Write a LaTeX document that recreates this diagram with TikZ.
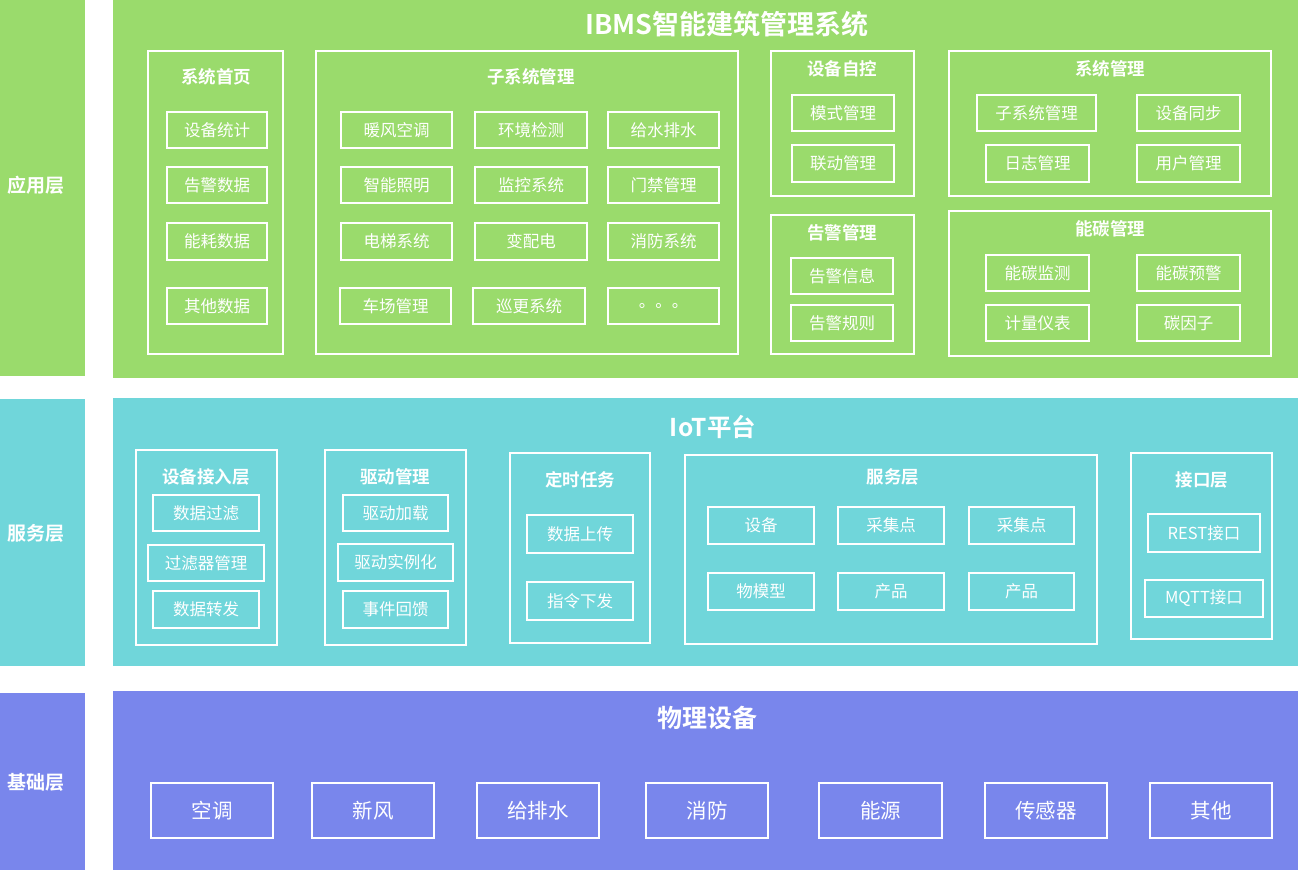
\documentclass[tikz,border=0pt]{standalone}
\usepackage{fontspec}
\setmainfont{Noto Sans CJK SC}[BoldFont={Noto Sans CJK SC Bold}]
\definecolor{appg}{RGB}{154,219,108}
\definecolor{srvc}{RGB}{112,214,218}
\definecolor{basb}{RGB}{121,134,236}
\tikzset{
  band/.style={draw=none,inner sep=0pt,outer sep=0pt,anchor=center},
  bx/.style={draw=white,line width=1.6pt,inner sep=0pt,outer sep=0pt,text=white,font=\fontsize{16.5}{19}\selectfont},
  grp/.style={draw=white,line width=1.6pt,inner sep=0pt,outer sep=0pt},
  gtitle/.style={text=white,font=\fontsize{17.5}{20}\selectfont\bfseries},
  ltitle/.style={text=white,font=\fontsize{19}{22}\selectfont\bfseries},
  btitle/.style={text=white,font=\fontsize{27}{30}\selectfont\bfseries},
  devbx/.style={bx,font=\fontsize{20.5}{24}\selectfont},
}
% #1 options, #2 name, #3 x1, #4 y1, #5 x2, #6 y2, #7 text
\newcommand\bx[7][bx]{\node[#1,minimum width={(#5-#3)*1pt},minimum height={(#6-#4)*1pt}] (#2) at ({(#3+#5)/2},{(#4+#6)/2}) {#7};}
\begin{document}
\begin{tikzpicture}[x=1pt,y=-1pt]
\useasboundingbox[fill=white] (0,0) rectangle (1298,870);
% bands
\bx[band,fill=appg]{appL}{0}{0}{85}{376}{}
\bx[band,fill=appg]{appM}{113}{0}{1298}{378}{}
\bx[band,fill=srvc]{srvL}{0}{399}{85}{666}{}
\bx[band,fill=srvc]{srvM}{113}{398}{1298}{666}{}
\bx[band,fill=basb]{basL}{0}{693}{85}{870}{}
\bx[band,fill=basb]{basM}{113}{691}{1298}{870}{}
\node[ltitle] (lapp) at (36,185) {应用层};
\node[ltitle] (lsrv) at (36,533) {服务层};
\node[ltitle] (lbas) at (36,782) {基础层};
% ---------- application layer ----------
\node[btitle] (ibms) at (727,24) {IBMS智能建筑管理系统};
\bx[grp]{g1}{148}{51}{283}{354}{}
\node[gtitle] (g1t) at (216,77) {系统首页};
\bx{a1}{167}{112}{267}{148}{设备统计}
\bx{a2}{167}{167}{267}{203}{告警数据}
\bx{a3}{167}{223}{267}{260}{能耗数据}
\bx{a4}{167}{288}{267}{324}{其他数据}
\bx[grp]{g2}{316}{51}{738}{354}{}
\node[gtitle] (g2t) at (531,77) {子系统管理};
\bx{b11}{341}{112}{452}{148}{暖风空调}
\bx{b12}{475}{112}{587}{148}{环境检测}
\bx{b13}{608}{112}{719}{148}{给水排水}
\bx{b21}{341}{167}{452}{203}{智能照明}
\bx{b22}{475}{167}{587}{203}{监控系统}
\bx{b23}{608}{167}{719}{203}{门禁管理}
\bx{b31}{341}{223}{452}{260}{电梯系统}
\bx{b32}{475}{223}{587}{260}{变配电}
\bx{b33}{608}{223}{719}{260}{消防系统}
\bx{b41}{340}{288}{451}{324}{车场管理}
\bx{b42}{473}{288}{585}{324}{巡更系统}
\bx{b43}{608}{288}{719}{324}{。。。}
\bx[grp]{g3}{771}{51}{914}{196}{}
\node[gtitle] (g3t) at (842,69) {设备自控};
\bx{c1}{792}{95}{894}{131}{模式管理}
\bx{c2}{792}{145}{894}{182}{联动管理}
\bx[grp]{g4}{771}{215}{914}{354}{}
\node[gtitle] (g4t) at (842,233) {告警管理};
\bx{d1}{791}{258}{893}{294}{告警信息}
\bx{d2}{791}{305}{893}{341}{告警规则}
\bx[grp]{g5}{949}{51}{1271}{196}{}
\node[gtitle] (g5t) at (1110,69) {系统管理};
\bx{e1}{977}{95}{1096}{131}{子系统管理}
\bx{e2}{1137}{95}{1240}{131}{设备同步}
\bx{e3}{986}{145}{1089}{182}{日志管理}
\bx{e4}{1137}{145}{1240}{182}{用户管理}
\bx[grp]{g6}{949}{211}{1271}{356}{}
\node[gtitle] (g6t) at (1110,229) {能碳管理};
\bx{f1}{986}{255}{1089}{291}{能碳监测}
\bx{f2}{1137}{255}{1240}{291}{能碳预警}
\bx{f3}{986}{305}{1089}{341}{计量仪表}
\bx{f4}{1137}{305}{1240}{341}{碳因子}
% ---------- service layer ----------
\node[btitle,font=\fontsize{24.5}{28}\selectfont\bfseries] (iot) at (713,427) {IoT平台};
\bx[grp]{h1}{136}{450}{277}{645}{}
\node[gtitle] (h1t) at (206,477) {设备接入层};
\bx{h11}{153}{495}{259}{531}{数据过滤}
\bx{h12}{148}{545}{264}{581}{过滤器管理}
\bx{h13}{153}{591}{259}{628}{数据转发}
\bx[grp]{h2}{325}{450}{466}{645}{}
\node[gtitle] (h2t) at (395,477) {驱动管理};
\bx{h21}{343}{495}{448}{531}{驱动加载}
\bx{h22}{338}{544}{453}{581}{驱动实例化}
\bx{h23}{343}{591}{448}{628}{事件回馈}
\bx[grp]{h3}{510}{453}{650}{643}{}
\node[gtitle] (h3t) at (580,480) {定时任务};
\bx{h31}{527}{515}{633}{553}{数据上传}
\bx{h32}{527}{582}{633}{620}{指令下发}
\bx[grp]{h4}{685}{455}{1097}{644}{}
\node[gtitle] (h4t) at (893,477) {服务层};
\bx{h41}{708}{507}{814}{544}{设备}
\bx{h42}{838}{507}{944}{544}{采集点}
\bx{h43}{969}{507}{1074}{544}{采集点}
\bx{h44}{708}{573}{814}{610}{物模型}
\bx{h45}{838}{573}{944}{610}{产品}
\bx{h46}{969}{573}{1074}{610}{产品}
\bx[grp]{h5}{1131}{453}{1272}{639}{}
\node[gtitle] (h5t) at (1202,480) {接口层};
\bx{h51}{1148}{514}{1260}{552}{REST接口}
\bx{h52}{1145}{580}{1263}{617}{MQTT接口}
% ---------- base layer ----------
\node[btitle,font=\fontsize{25}{29}\selectfont\bfseries] (phys) at (707,718) {物理设备};
\bx[devbx]{k1}{151}{783}{273}{838}{空调}
\bx[devbx]{k2}{312}{783}{434}{838}{新风}
\bx[devbx]{k3}{477}{783}{599}{838}{给排水}
\bx[devbx]{k4}{646}{783}{768}{838}{消防}
\bx[devbx]{k5}{819}{783}{942}{838}{能源}
\bx[devbx]{k6}{985}{783}{1107}{838}{传感器}
\bx[devbx]{k7}{1150}{783}{1272}{838}{其他}
\end{tikzpicture}
\end{document}
